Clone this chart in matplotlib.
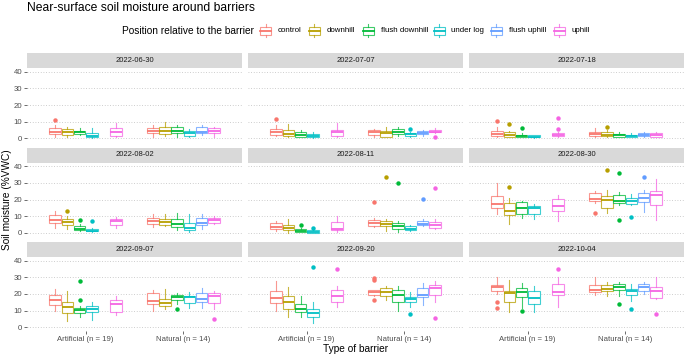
import matplotlib.pyplot as plt
from matplotlib.colors import to_rgba
from matplotlib.patches import Rectangle

plt.rcParams['font.family'] = ['Liberation Sans', 'DejaVu Sans']

# ---- data (box statistics, %VWC) ----
DATES = ['2022-06-30', '2022-07-07', '2022-07-18',
         '2022-08-02', '2022-08-11', '2022-08-30',
         '2022-09-07', '2022-09-20', '2022-10-04']
POSITIONS = ['control', 'downhill', 'flush downhill', 'under log', 'flush uphill', 'uphill']
BARRIERS = ['Artificial (n = 19)', 'Natural (n = 14)']
COLORS = ['#F8766D', '#B79F00', '#00BA38', '#00BFC4', '#619CFF', '#F564E3']

# each row: one date; 6 artificial slots then 6 natural slots (None = no data)
LOW = [
    [0.5, 1, 2, 0, None, 1, 1, 1.5, 1, 0.5, 2, 1],
    [1.5, 0.5, 0.5, 0, None, 1, 1, 0.5, 1.5, 1, 1.5, 3],
    [1, 0.5, 0.5, 0.2, None, 0.8, 1, 0.8, 0.5, 0.8, 0.8, 0.8],
    [3, 2.5, 1, 0.4, None, 3, 3.5, 4, 1.5, 0.5, 2.5, 5],
    [1, 0, 0.2, 0, None, 0.5, 3.5, 1, 0.5, 1, 4, 2],
    [11.5, 5.5, 8.6, 8, None, 6.8, 18, 12, 16.5, 16.8, 12.6, 7.8],
    [9.6, 3.6, 6.4, 4.4, None, 7.6, 10, 10.8, 14, 11.6, 11.8, 11],
    [10, 6, 6.4, 2.4, None, 12, 19, 16.6, 10, 12, 13.4, 15],
    [19.8, 9, 11.8, 9, None, 12.4, 19.6, 19, 18.8, 15.6, 19.8, 17],
]
Q1 = [
    [2.5, 2, 2.5, 0.5, None, 1.5, 3, 2.5, 3, 1.5, 3, 3],
    [2, 1.5, 1, 0.5, None, 1.5, 2, 1, 2.5, 1.5, 2.5, 3.5],
    [1.5, 0.8, 1, 0.5, None, 1.2, 1.5, 1.2, 0.8, 1, 1.2, 1],
    [5.6, 4.8, 1.6, 0.8, None, 4.6, 5.4, 4.6, 3.4, 1.8, 4.6, 5.8],
    [2, 1.4, 0.6, 0, None, 1.4, 4.2, 3.8, 2.2, 1.4, 4.6, 3],
    [14.6, 10.5, 11.4, 11, None, 12.8, 18.8, 15, 17.6, 17.4, 18.2, 16.6],
    [13.2, 8.8, 8.8, 9.2, None, 9.2, 14, 12.6, 16.6, 14.8, 15.2, 14.4],
    [14.4, 11, 9, 6.2, None, 15.4, 19.4, 18.8, 15, 15.2, 18.2, 19.2],
    [22, 15.4, 18.2, 14.2, None, 19.4, 21, 22, 22.6, 19.6, 22, 17.8],
]
MED = [
    [3.5, 4, 3.5, 1.5, None, 3.5, 4.5, 4.5, 4.5, 3, 4, 4.5],
    [3.5, 2.5, 2, 1.5, None, 3.5, 3.5, 3, 4, 2.5, 3, 4],
    [2.5, 1.8, 1.6, 1, None, 1.8, 2.5, 2, 1.8, 1.6, 2, 1.8],
    [7.5, 6.5, 2.5, 1.3, None, 7, 7, 6.5, 5, 3, 6, 7.5],
    [3.5, 3, 1, 0.5, None, 2.5, 6, 5.5, 4, 2.5, 5.5, 4.5],
    [17.3, 12.8, 14.6, 14.8, None, 16.3, 20.6, 19.8, 19, 19, 21, 22.8],
    [16.4, 12.2, 10.2, 11, None, 14, 15.6, 14.8, 18, 18, 16.8, 18.8],
    [17.6, 15, 10.8, 8.6, None, 18.6, 21, 21.4, 19.6, 16.8, 19.4, 23.4],
    [24, 20.6, 21, 17.8, None, 21, 22.4, 23, 24, 21.6, 24.4, 21.8],
]
Q3 = [
    [6, 5.5, 4.5, 3, None, 6, 6, 6.5, 6.5, 4.5, 6.5, 6],
    [5.5, 5, 3.8, 2.5, None, 5, 5, 4.5, 5.5, 3, 4.5, 5],
    [4.5, 3.8, 2.2, 1.8, None, 3, 4, 3.6, 2.6, 2.2, 3, 3],
    [10.4, 8.2, 4, 2.4, None, 8.2, 8.6, 8, 8.4, 6, 8.8, 8.8],
    [5.6, 4.8, 2.4, 1.4, None, 6.4, 7.4, 7, 5.8, 3.8, 7.2, 6.6],
    [22.4, 17.6, 18.2, 16.3, None, 20.2, 23.8, 22.4, 23, 21.2, 23.8, 25.4],
    [19.2, 15.2, 11.6, 12.8, None, 16.4, 20.6, 16.8, 19.6, 19, 20.8, 20.6],
    [22, 19, 13.8, 11, None, 22.2, 22.2, 23.4, 22.4, 18.2, 23.8, 25.2],
    [25.4, 22, 23.4, 21.8, None, 26, 25.2, 25.4, 26, 23, 25.8, 24.2],
]
HIGH = [
    [8, 6.5, 6, 6, None, 9, 8, 9.5, 8, 5.5, 8, 7],
    [8, 8.5, 5, 3.5, None, 9, 5.5, 6.5, 7, 3.5, 5, 6],
    [6.5, 4.5, 3, 2, None, 3.5, 6, 5, 4, 3, 4, 3.5],
    [13, 10, 5, 3, None, 9.5, 11, 11.5, 12, 11, 11.5, 10],
    [7, 8, 3, 2, None, 10, 9, 8, 7, 4.5, 8, 8],
    [30, 21, 19, 17.5, None, 22.5, 25, 25.5, 24.5, 23.5, 26, 32.5],
    [23, 21.6, 13, 15, None, 19, 22.6, 23, 20.6, 21, 23.6, 22],
    [27.6, 24.4, 18.6, 15, None, 25, 22.5, 24.6, 25, 21.4, 26.6, 28],
    [30, 28.4, 26.6, 24.8, None, 30, 30, 27, 27, 26, 27, 30],
]
# (date index, slot, value)
OUTLIERS = [
    (0, 0, 11.0),
    (1, 0, 11.4), (1, 9, 5.4), (1, 11, 1.0),
    (2, 0, 10.4), (2, 1, 8.4), (2, 2, 6.2), (2, 5, 5.8), (2, 5, 12.2), (2, 7, 6.6),
    (3, 1, 13.1), (3, 2, 7.4), (3, 3, 7.0),
    (4, 2, 4.8), (4, 3, 2.8), (4, 6, 18.5), (4, 7, 33.7), (4, 8, 30.0), (4, 10, 20.5), (4, 11, 27.0),
    (5, 1, 27.6), (5, 6, 11.8), (5, 7, 37.8), (5, 8, 35.7), (5, 8, 7.4), (5, 9, 9.2), (5, 10, 33.6),
    (6, 2, 16.4), (6, 2, 27.8), (6, 8, 10.8), (6, 11, 5.2),
    (7, 3, 36.2), (7, 5, 35.0), (7, 6, 29.6), (7, 6, 28.2), (7, 6, 16.4), (7, 9, 8.0), (7, 11, 5.8),
    (8, 0, 15.2), (8, 0, 11.6), (8, 2, 9.6), (8, 5, 35.0), (8, 8, 13.8), (8, 9, 11.2), (8, 11, 8.0),
]

# ---- layout in pixels ----
W, H = 685, 356
COL_X = [27, 248, 469]
ROW_Y = [68, 162.5, 257]
PANEL_W, PANEL_H, STRIP_H = 215, 74, 15
DODGE = 0.125
BOX_W = 0.118

fig = plt.figure(figsize=(W / 100, H / 100), dpi=100)


def px_axes(x, y, w, h):
    return fig.add_axes([x / W, 1 - (y + h) / H, w / W, h / H])


overlay = px_axes(0, 0, W, H)
overlay.set_xlim(0, W)
overlay.set_ylim(H, 0)
overlay.axis('off')

for k, date in enumerate(DATES):
    r, c = divmod(k, 3)
    x0, y0 = COL_X[c], ROW_Y[r]
    ax = px_axes(x0, y0, PANEL_W, PANEL_H)
    strip = px_axes(x0, y0 - STRIP_H, PANEL_W, STRIP_H)
    strip.set_facecolor('#D9D9D9')
    strip.set_xticks([])
    strip.set_yticks([])
    for s in strip.spines.values():
        s.set_visible(False)
    strip.text(0.5, 0.5, date, ha='center', va='center', fontsize=5.5, color='#1A1A1A',
               transform=strip.transAxes)

    for slot in range(12):
        if MED[k][slot] is None:
            continue
        g, p = divmod(slot, 6)
        col = COLORS[p]
        edge = to_rgba(col, 0.75)
        fl = [v for d, s, v in OUTLIERS if d == k and s == slot]
        stats = [dict(whislo=LOW[k][slot], q1=Q1[k][slot], med=MED[k][slot],
                      q3=Q3[k][slot], whishi=HIGH[k][slot], fliers=fl)]
        ax.bxp(stats, positions=[g + 1 + (p - 2.5) * DODGE], widths=BOX_W,
               patch_artist=True, showcaps=False, manage_ticks=False,
               boxprops=dict(facecolor='white', edgecolor=edge, linewidth=0.8),
               whiskerprops=dict(color=edge, linewidth=0.8),
               medianprops=dict(color=col, linewidth=1.3),
               flierprops=dict(marker='o', markerfacecolor=col, markeredgecolor='none',
                               markersize=3.2))

    ax.set_xlim(0.4, 2.6)
    ax.set_ylim(-2.25, 42.25)
    ax.set_yticks([0, 10, 20, 30, 40])
    ax.set_xticks([1, 2])
    ax.set_axisbelow(True)
    ax.grid(axis='y', color='#BDBDBD', linewidth=0.6, linestyle=(0, (1, 2.2)))
    for s in ax.spines.values():
        s.set_visible(False)
    ax.tick_params(length=2, width=0.5, color='#333333', labelsize=5.6,
                   labelcolor='#4D4D4D', pad=1.5)
    if c == 0:
        ax.set_yticklabels(['0', '10', '20', '30', '40'])
    else:
        ax.tick_params(axis='y', length=0, labelleft=False)
    if r == 2:
        ax.set_xticklabels(BARRIERS)
    else:
        ax.tick_params(axis='x', length=0, labelbottom=False)

# titles
overlay.text(27, 11, 'Near-surface soil moisture around barriers', fontsize=8.7,
             va='baseline', ha='left', color='black')
overlay.text(355.5, 349, 'Type of barrier', fontsize=7.3, ha='center', va='center')
overlay.text(7, 200, 'Soil moisture (%VWC)', fontsize=7.3, ha='center', va='center',
             rotation=90)

# legend
LEG_Y = 30.5
overlay.text(122.3, LEG_Y, 'Position relative to the barrier', fontsize=7.3,
             ha='left', va='center')
KEY_X = [265.6, 314.1, 368.3, 439.1, 496.3, 559.2]
for name, col, kx in zip(POSITIONS, COLORS, KEY_X):
    edge = to_rgba(col, 0.75)
    overlay.add_patch(Rectangle((kx - 5.5, LEG_Y - 4), 11, 8, facecolor='white',
                                edgecolor=edge, linewidth=0.8))
    overlay.plot([kx - 5.5, kx + 5.5], [LEG_Y, LEG_Y], color=col, linewidth=1.3)
    overlay.plot([kx, kx], [LEG_Y - 4, LEG_Y - 6.5], color=edge, linewidth=0.8)
    overlay.plot([kx, kx], [LEG_Y + 4, LEG_Y + 6.5], color=edge, linewidth=0.8)
    overlay.text(kx + 12.3, LEG_Y, name, fontsize=5.7, ha='left', va='center')

fig.savefig('out.png', dpi=100)
